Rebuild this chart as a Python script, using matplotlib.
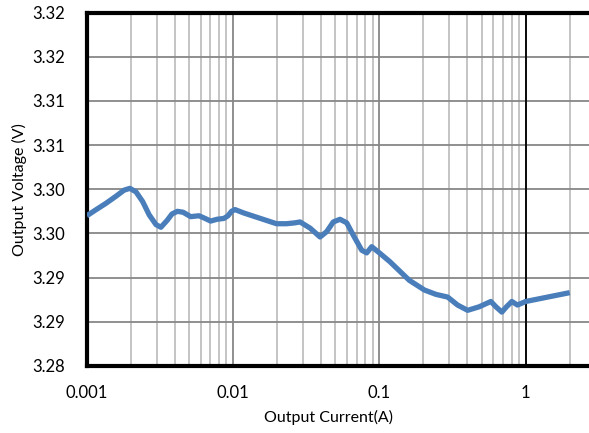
import matplotlib
matplotlib.use('Agg')
import matplotlib.pyplot as plt
from matplotlib.ticker import LogLocator, NullFormatter

plt.rcParams['font.family'] = ['Lato', 'DejaVu Sans']

# output current (A) and output voltage (V)
current = [0.001, 0.00116, 0.00135, 0.00158, 0.00180, 0.00197, 0.00217, 0.00241,
           0.00267, 0.00297, 0.00321, 0.00355, 0.00382, 0.00416, 0.00455, 0.00513,
           0.00585, 0.00643, 0.00702, 0.00776, 0.00866, 0.00923, 0.00975, 0.0103,
           0.0119, 0.0198, 0.0232, 0.0265, 0.0287, 0.0336, 0.0393, 0.0436,
           0.0484, 0.0538, 0.0598, 0.0663, 0.0757, 0.0819, 0.0886, 0.1,
           0.118, 0.160, 0.203, 0.244, 0.293, 0.342, 0.401, 0.481,
           0.578, 0.626, 0.687, 0.739, 0.804, 0.878, 1.0, 2.0]
voltage = [3.2970, 3.2977, 3.2984, 3.2992, 3.2999, 3.3001, 3.2997, 3.2986,
           3.2971, 3.2960, 3.2957, 3.2965, 3.2972, 3.2975, 3.2974, 3.2969,
           3.2970, 3.2967, 3.2964, 3.2966, 3.2967, 3.2970, 3.2975, 3.2977,
           3.2973, 3.2961, 3.2961, 3.2962, 3.2963, 3.2956, 3.2946, 3.2952,
           3.2963, 3.2966, 3.2962, 3.2948, 3.2931, 3.2928, 3.2935, 3.2928,
           3.2918, 3.2897, 3.2886, 3.2881, 3.2878, 3.2869, 3.2863, 3.2867,
           3.2873, 3.2867, 3.2861, 3.2867, 3.2873, 3.2869, 3.2873, 3.2883]

y_ticks = [3.280, 3.285, 3.290, 3.295, 3.300, 3.305, 3.310, 3.315, 3.320]
y_tick_labels = ['3.28', '3.29', '3.29', '3.30', '3.30', '3.31', '3.31', '3.32', '3.32']
x_ticks = [0.001, 0.01, 0.1, 1]
x_tick_labels = ['0.001', '0.01', '0.1', '1']

fig = plt.figure(figsize=(5.89, 4.33), dpi=100)
# plot area runs past the right edge of the picture (cropped Excel chart)
ax = fig.add_axes([86.8 / 589, 67 / 433, 585.2 / 589, 353.5 / 433])

ax.set_xscale('log')
ax.set_xlim(0.001, 10)
ax.set_ylim(3.28, 3.32)

ax.set_xticks(x_ticks)
ax.set_xticklabels(x_tick_labels)
ax.xaxis.set_minor_locator(LogLocator(base=10, subs=range(2, 10)))
ax.xaxis.set_minor_formatter(NullFormatter())
ax.set_yticks(y_ticks)
ax.set_yticklabels(y_tick_labels)
ax.tick_params(which='both', length=0, labelsize=12, pad=16)
ax.tick_params(axis='x', pad=14)

ax.grid(True, which='minor', axis='x', color='#bfbfbf', linewidth=1.3)
ax.grid(True, which='major', axis='x', color='#878787', linewidth=1.3)
ax.grid(True, which='major', axis='y', color='#878787', linewidth=1.3)
ax.axvline(1, color='black', linewidth=1.3, zorder=2)
ax.set_axisbelow(True)

for s in ax.spines.values():
    s.set_linewidth(3)
    s.set_color('black')

ax.plot(current, voltage, color='#4a7ebb', linewidth=3.8,
        solid_capstyle='butt', solid_joinstyle='round', zorder=3)

ax.set_xlabel('Output Current(A)', fontsize=11.5)
ax.set_ylabel('Output Voltage (V)', fontsize=11.5)
ax.xaxis.set_label_coords((329 - 86.8) / 585.2, -(417 - 366) / 353.5)
ax.yaxis.set_label_coords(-(86.8 - 19) / 585.2, 0.5)
ax.xaxis.label.set_va('center')
ax.yaxis.label.set_va('center')

fig.savefig('out.png', dpi=100)
